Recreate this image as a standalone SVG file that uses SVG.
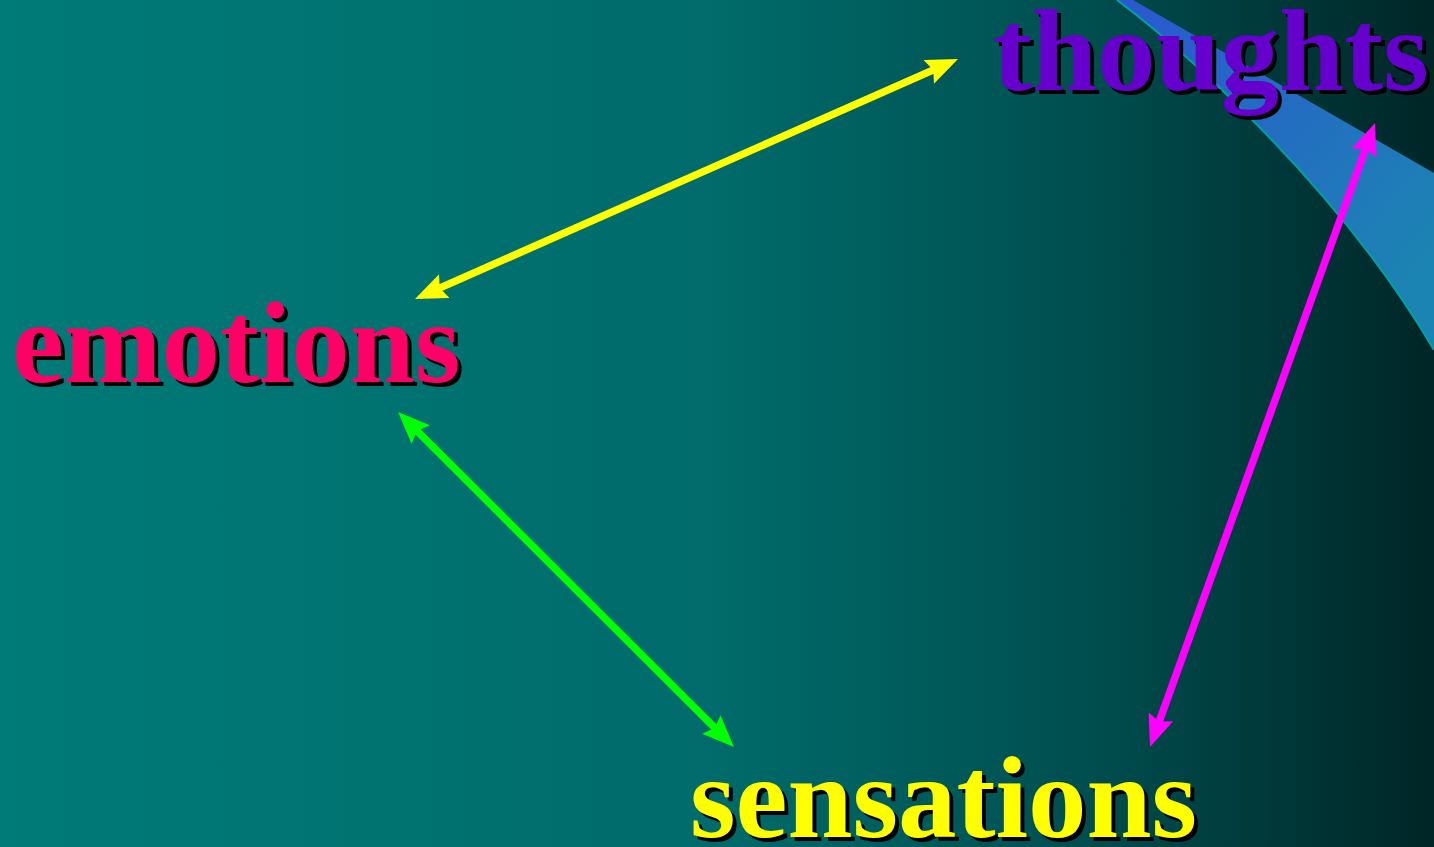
<svg xmlns="http://www.w3.org/2000/svg" width="1434" height="847" viewBox="0 0 1434 847">
  <defs>
    <linearGradient id="bg" x1="0" y1="0" x2="1" y2="0">
      <stop offset="0" stop-color="#007B78"/>
      <stop offset="0.5" stop-color="#006B6A"/>
      <stop offset="0.75" stop-color="#004F50"/>
      <stop offset="1" stop-color="#002627"/>
    </linearGradient>
    <linearGradient id="band" gradientUnits="userSpaceOnUse" x1="1130" y1="0" x2="1434" y2="260">
      <stop offset="0" stop-color="#2A58D0"/>
      <stop offset="1" stop-color="#1C84B2"/>
    </linearGradient>
    <marker id="hy" viewBox="0 0 32 26" markerWidth="32" markerHeight="26" refX="12" refY="13" markerUnits="userSpaceOnUse" orient="auto-start-reverse">
      <path d="M0,0 L32,13 L0,26 L5,13 Z" fill="#FFFF00"/>
    </marker>
    <marker id="hg" viewBox="0 0 32 26" markerWidth="32" markerHeight="26" refX="12" refY="13" markerUnits="userSpaceOnUse" orient="auto-start-reverse">
      <path d="M0,0 L32,13 L0,26 L5,13 Z" fill="#00FF00"/>
    </marker>
    <marker id="hm" viewBox="0 0 32 26" markerWidth="32" markerHeight="26" refX="12" refY="13" markerUnits="userSpaceOnUse" orient="auto-start-reverse">
      <path d="M0,0 L32,13 L0,26 L5,13 Z" fill="#FF00FF"/>
    </marker>
  </defs>
  <style>
    .lbl { font-family: "Liberation Serif", "Times New Roman", serif; font-weight: bold; font-size: 117px; }
    .sh { fill: #000000; }
    .conn { fill: none; stroke-width: 7.5; }
  </style>
  <rect x="0" y="0" width="1434" height="847" fill="url(#bg)"/>
  <path d="M1117,0 L1133,0 L1434,173 L1434,350 C1340,190 1190,55 1117,0 Z" fill="url(#band)"/>
  <path d="M1117,0 C1190,55 1340,190 1434,350" fill="none" stroke="#00A3A3" stroke-width="2"/>

  <g id="connectors">
    <line class="conn" x1="939.7" y1="67.1" x2="433.3" y2="290.9" stroke="#FFFF00" marker-start="url(#hy)" marker-end="url(#hy)"/>
    <line class="conn" x1="412.2" y1="426.1" x2="719.8" y2="732.9" stroke="#00FF00" marker-start="url(#hg)" marker-end="url(#hg)"/>
    <line class="conn" x1="1368.2" y1="141.8" x2="1156.8" y2="728.2" stroke="#FF00FF" marker-start="url(#hm)" marker-end="url(#hm)"/>
  </g>

  <g id="thoughts">
    <text class="lbl sh" x="997" y="94">thoughts</text>
    <text class="lbl" x="993" y="90" fill="#6600CC">thoughts</text>
  </g>
  <g id="emotions">
    <text class="lbl sh" x="16" y="386">emotions</text>
    <text class="lbl" x="12" y="382" fill="#FF0066">emotions</text>
  </g>
  <g id="sensations">
    <text class="lbl sh" x="694" y="841">sensations</text>
    <text class="lbl" x="690" y="837" fill="#FFFF00">sensations</text>
  </g>
</svg>
